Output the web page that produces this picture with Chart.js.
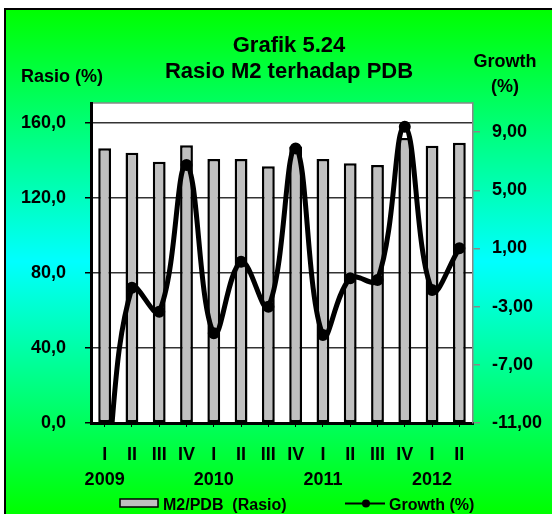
<!DOCTYPE html>
<html>
<head>
<meta charset="utf-8">
<script src="https://cdn.jsdelivr.net/npm/chart.js@4"></script>
<style>
  html, body { margin: 0; padding: 0; background: #fff; }
  #wrap { width: 552px; height: 514px; position: relative; }
</style>
</head>
<body>
<div id="wrap"><canvas id="m2-chart"></canvas></div>
<script>
const quarters = ["I", "II", "III", "IV", "I", "II", "III", "IV", "I", "II", "III", "IV", "I", "II"];
const years = ["2009", "", "", "", "2010", "", "", "", "2011", "", "", "", "2012", ""];
const rasio = [146.5, 144.2, 139.4, 148.1, 140.8, 140.8, 136.9, 147.5, 140.8, 138.5, 137.6, 152.0, 147.9, 149.5];
const growth = [-16.0, -1.7, -3.35, 6.74, -4.83, 0.09, -3.0, 7.88, -4.95, -1.05, -1.17, 9.37, -1.86, 1.01];
const leftTicks = [0, 40, 80, 120, 160];
const rightTicks = [-11, -7, -3, 1, 5, 9];

const FONT = "'Liberation Sans', Arial, sans-serif";
Chart.defaults.font.family = FONT;
Chart.defaults.font.weight = "bold";
Chart.defaults.color = "#000";

const backdrop = {
  id: "backdrop",
  beforeDraw(chart) {
    const c = chart.ctx;
    const a = chart.chartArea;
    c.save();
    c.fillStyle = "#fff";
    c.fillRect(0, 0, chart.width, chart.height);
    const g = c.createLinearGradient(0, 9, 0, 514);
    g.addColorStop(0, "#00ff00");
    g.addColorStop(0.5, "#00ffff");
    g.addColorStop(1, "#00ff00");
    c.fillStyle = g;
    c.fillRect(5, 9, chart.width, chart.height);
    c.strokeStyle = "#000";
    c.lineWidth = 2;
    c.beginPath();
    c.moveTo(5, chart.height + 2);
    c.lineTo(5, 9);
    c.lineTo(chart.width + 2, 9);
    c.stroke();
    c.fillStyle = "#fff";
    c.fillRect(a.left, a.top, a.right - a.left, a.bottom - a.top);
    c.strokeStyle = "#888";
    c.lineWidth = 1.5;
    c.beginPath();
    c.moveTo(a.left, a.top);
    c.lineTo(a.right, a.top);
    c.stroke();
    c.restore();
  },
  afterDraw(chart) {
    const c = chart.ctx;
    c.save();
    c.fillStyle = "#000";
    c.textBaseline = "alphabetic";
    c.textAlign = "center";
    c.font = "bold 22px " + FONT;
    c.fillText("Grafik 5.24", 289, 52);
    c.fillText("Rasio M2 terhadap PDB", 289, 78);
    c.font = "bold 18px " + FONT;
    c.fillText("Rasio (%)", 62, 82);
    c.fillText("Growth", 505, 67);
    c.fillText("(%)", 505, 92);

    // legend
    c.fillStyle = "#c0c0c0";
    c.fillRect(120, 499, 38, 8);
    c.strokeStyle = "#000";
    c.lineWidth = 1.5;
    c.strokeRect(120, 499, 38, 8);
    c.beginPath();
    c.lineWidth = 2;
    c.moveTo(345, 503.5);
    c.lineTo(385, 503.5);
    c.stroke();
    c.beginPath();
    c.fillStyle = "#000";
    c.arc(366, 503.5, 4, 0, Math.PI * 2);
    c.fill();
    c.textAlign = "left";
    c.font = "bold 16px " + FONT;
    c.fillText("M2/PDB  (Rasio)", 163, 509.5);
    c.fillText("Growth (%)", 389, 509.5);
    c.restore();
  }
};

document.addEventListener("DOMContentLoaded", function () {
  const ctx = document.getElementById("m2-chart").getContext("2d");
  new Chart(ctx, {
    type: "bar",
    data: {
      labels: quarters.map((q, i) => [q, years[i]]),
      datasets: [
        {
          type: "line",
          label: "Growth (%)",
          data: growth,
          yAxisID: "y1",
          borderColor: "#000",
          borderWidth: 5,
          tension: 0.4,
          pointRadius: 3.5,
          pointBackgroundColor: "#000",
          pointBorderColor: "#000",
          clip: 0,
          order: 0,
        },
        {
          label: "M2/PDB (Rasio)",
          data: rasio,
          yAxisID: "y",
          backgroundColor: "#c0c0c0",
          borderColor: "#000",
          borderWidth: 2.5,
          borderSkipped: false,
          barPercentage: 0.47,
          categoryPercentage: 1.0,
          order: 1,
        },
      ],
    },
    options: {
      responsive: true,
      maintainAspectRatio: false,
      animation: false,
      layout: { padding: { top: 103, left: 0, right: 0, bottom: 0 } },
      plugins: {
        legend: { display: false },
        title: { display: false },
        tooltip: { enabled: false },
      },
      scales: {
        x: {
          afterFit(s) { s.height = 91; },
          grid: { drawOnChartArea: false, offset: false, tickLength: 4, color: "#000", lineWidth: 1 },
          border: { color: "#000", width: 3 },
          ticks: { font: { size: 18, weight: "bold", lineHeight: 1.4 }, padding: 15, maxRotation: 0, autoSkip: false },
        },
        y: {
          position: "left",
          min: 0,
          max: 170.67,
          afterFit(s) { s.width = 91; },
          afterBuildTicks(s) { s.ticks = leftTicks.map(v => ({ value: v })); },
          grid: { color: "#333", lineWidth: 1.5, tickLength: 6, tickColor: "#000" },
          border: { color: "#000", width: 3 },
          ticks: {
            font: { size: 18, weight: "bold" },
            padding: 19,
            callback: v => v.toFixed(1).replace(".", ","),
          },
        },
        y1: {
          position: "right",
          min: -11,
          max: 11,
          afterFit(s) { s.width = 79; },
          afterBuildTicks(s) { s.ticks = rightTicks.map(v => ({ value: v })); },
          grid: { drawOnChartArea: false, tickLength: 7, color: "#888", lineWidth: 1.5 },
          border: { color: "#888", width: 1.5 },
          ticks: {
            font: { size: 18, weight: "bold" },
            padding: 12,
            callback: v => v.toFixed(2).replace(".", ","),
          },
        },
      },
    },
    plugins: [backdrop],
  });
});
</script>
</body>
</html>
